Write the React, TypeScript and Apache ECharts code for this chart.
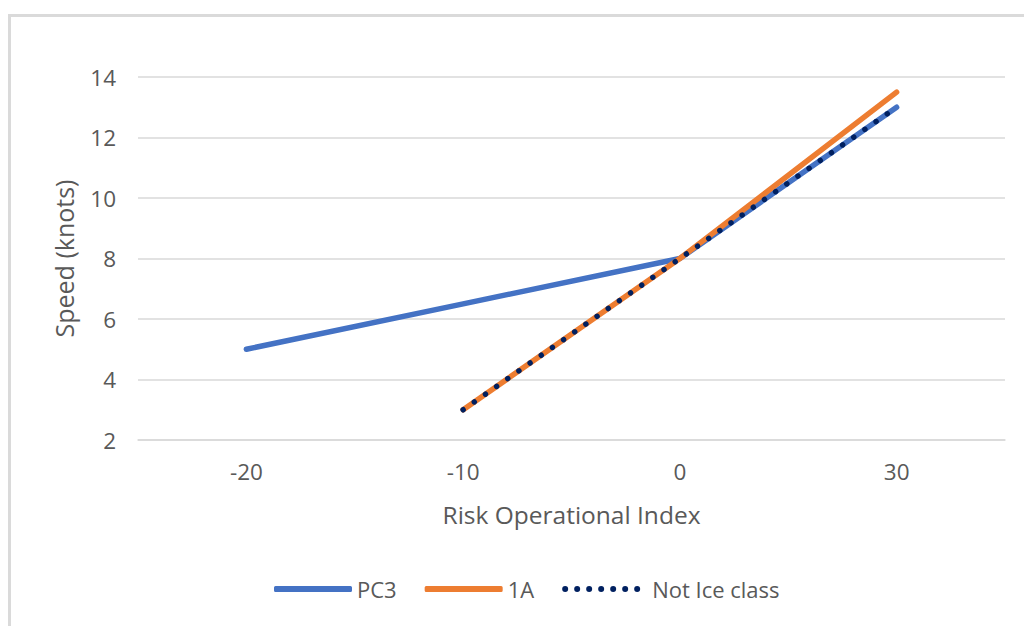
import React, { useEffect, useRef } from "react";
import * as echarts from "echarts";

const categories = ["-20", "-10", "0", "30"];
const pc3 = [5, 6.5, 8, 13];
const oneA = [null, 3, 8, 13.5];
const notIce = [null, 3, 8, 13];
const yTicks = { min: 2, max: 14, interval: 2 };
const legendNames = ["PC3", "1A", "Not Ice class"];

const FONT = "'Open Sans', sans-serif";
const GRAY = "#595959";

// seven dots, 78 x 6 bounding box
const dotsIcon =
  "path://" +
  [0, 1, 2, 3, 4, 5, 6]
    .map((i) => {
      const cx = 3 + i * 12;
      return `M${cx - 3},3a3,3 0 1,0 6,0a3,3 0 1,0 -6,0Z`;
    })
    .join(" ");

export default function App() {
  const ref = useRef<HTMLDivElement>(null);
  useEffect(() => {
    const chart = echarts.init(ref.current!, null, { renderer: "svg" });
    chart.setOption({
      animation: false,
      backgroundColor: "#fff",
      textStyle: { fontFamily: FONT },
      graphic: [
        {
          type: "rect",
          shape: { x: 9.5, y: 15.5, width: 1100, height: 700 },
          style: { fill: "none", stroke: "#dadada", lineWidth: 3 },
          silent: true,
        },
      ],
      grid: { left: 138, right: 19, top: 77, height: 363 },
      xAxis: {
        type: "category",
        data: categories,
        boundaryGap: true,
        name: "Risk Operational Index",
        nameLocation: "middle",
        nameGap: 62,
        nameTextStyle: { color: GRAY, fontSize: 24.5, fontFamily: FONT },
        axisLine: { lineStyle: { color: "#d9d9d9", width: 1.5 } },
        axisTick: { show: false },
        axisLabel: { color: GRAY, fontSize: 22.5, margin: 20, fontFamily: FONT },
      },
      yAxis: {
        type: "value",
        min: yTicks.min,
        max: yTicks.max,
        interval: yTicks.interval,
        name: "Speed (knots)",
        nameLocation: "middle",
        nameGap: 62,
        nameTextStyle: { color: GRAY, fontSize: 25, fontFamily: FONT },
        axisLine: { show: false },
        axisTick: { show: false },
        axisLabel: { color: GRAY, fontSize: 22.5, margin: 22, fontFamily: FONT },
        splitLine: { lineStyle: { color: "#d9d9d9", width: 1.5 } },
      },
      legend: {
        left: 274,
        top: 578,
        padding: 0,
        itemWidth: 78,
        itemHeight: 6,
        itemGap: 28,
        itemStyle: { borderWidth: 0 },
        textStyle: { color: GRAY, fontSize: 22, fontFamily: FONT },
        data: [
          { name: legendNames[0], icon: "roundRect" },
          { name: legendNames[1], icon: "roundRect" },
          {
            name: legendNames[2],
            icon: dotsIcon,
            textStyle: { color: GRAY, fontSize: 22, fontFamily: FONT, padding: [0, 0, 0, 7] },
          },
        ],
      },
      series: [
        {
          name: legendNames[0],
          type: "line",
          data: pc3,
          symbol: "none",
          lineStyle: { color: "#4472C4", width: 5.5, cap: "round" },
          itemStyle: { color: "#4472C4" },
        },
        {
          name: legendNames[1],
          type: "line",
          data: oneA,
          symbol: "none",
          lineStyle: { color: "#ED7D31", width: 5.5, cap: "round" },
          itemStyle: { color: "#ED7D31" },
        },
        {
          name: legendNames[2],
          type: "line",
          data: notIce,
          symbol: "none",
          lineStyle: { color: "#002060", width: 5.5, type: [0.01, 13.6], cap: "round" },
          itemStyle: { color: "#002060" },
        },
      ],
    });
    return () => chart.dispose();
  }, []);
  return (
    <div
      ref={ref}
      style={{ position: "absolute", left: 0, top: 0, width: 1024, height: 626 }}
    />
  );
}
